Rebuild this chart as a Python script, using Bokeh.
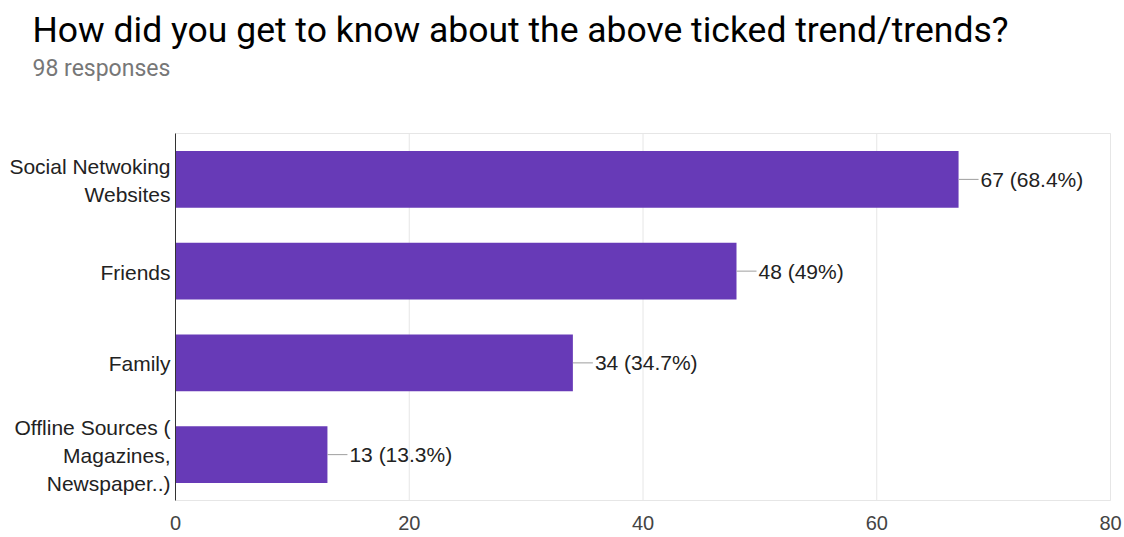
from bokeh.plotting import figure
from bokeh.models import Range1d, FixedTicker, ColumnDataSource
from bokeh.embed import file_html
from bokeh.resources import INLINE
from bokeh.core.properties import value

title_text = "How did you get to know about the above ticked trend/trends?"
subtitle_text = "98 responses"
categories = ["Social Netwoking Websites", "Friends", "Family", "Offline Sources ( Magazines, Newspaper..)"]
category_lines = [["Social Netwoking", "Websites"], ["Friends"], ["Family"],
                  ["Offline Sources (", "Magazines,", "Newspaper..)"]]
counts = [67, 48, 34, 13]
labels = ["67 (68.4%)", "48 (49%)", "34 (34.7%)", "13 (13.3%)"]
x_ticks = [0, 20, 40, 60, 80]

# ---- layout (pixels) ----
W, H = 1124, 537
PLOT_L, PLOT_R, PLOT_T, PLOT_B = 175, 1110, 133, 500
BORDER_BOTTOM = 36
FRAME_H = H - BORDER_BOTTOM
XMIN, XMAX = x_ticks[0], x_ticks[-1]
ncat = len(categories)
sx = (PLOT_R - PLOT_L) / (XMAX - XMIN)          # px per unit
uy = ncat / (PLOT_B - PLOT_T)                   # y units per px

def px2x(px):
    return XMIN + (px - PLOT_L) / sx

def py2y(py):
    return -0.5 + (PLOT_B - py) * uy

x_range = Range1d(px2x(0), px2x(W))
y_range = Range1d(py2y(FRAME_H), py2y(0))

ypos = [ncat - 1 - i for i in range(ncat)]      # first category on top
LEAD = 20 / sx
LINE_H = 28

src = ColumnDataSource(dict(
    y=ypos, n=counts, lab=labels,
    lead_end=[c + LEAD for c in counts],
))

# one row per text line of a category label
lx, ly, ltext, loff = [], [], [], []
for yp, lines in zip(ypos, category_lines):
    m = len(lines)
    for k, line in enumerate(lines):
        lx.append(0)
        ly.append(yp)
        ltext.append(line)
        loff.append((k - (m - 1) / 2) * LINE_H + 1)
cat_src = ColumnDataSource(dict(x=lx, y=ly, text=ltext, off=loff))

p = figure(width=W, height=H, output_backend="svg", toolbar_location=None,
           x_range=x_range, y_range=y_range,
           min_border_left=0, min_border_right=0, min_border_top=0, min_border_bottom=BORDER_BOTTOM)
p.background_fill_color = "white"
p.border_fill_color = "white"
p.outline_line_color = None
p.yaxis.visible = False
p.xgrid.grid_line_color = None
p.ygrid.grid_line_color = None

# plot-area box and grid lines
p.quad(left=XMIN, right=XMAX, bottom=-0.5, top=ncat - 0.5, fill_color=None, line_color="#e6e6e6", line_width=1)
p.segment(x0=x_ticks[1:], y0=-0.5, x1=x_ticks[1:], y1=ncat - 0.5, line_color="#e6e6e6", line_width=1)

p.hbar(y="y", right="n", left=0, height=0.62, source=src, fill_color="#673AB7", line_color=None)
p.segment(x0="n", y0="y", x1="lead_end", y1="y", source=src, line_color="#9e9e9e", line_width=1)
p.text(x="lead_end", y="y", text="lab", source=src, x_offset=2,
       text_font=value("Liberation Sans"), text_font_size="21px", text_color="#222222",
       text_align="left", text_baseline="middle")

# y axis line
p.segment(x0=[XMIN], y0=[-0.5], x1=[XMIN], y1=[ncat - 0.5], line_color="#333333", line_width=1)

# category labels
p.text(x="x", y="y", text="text", y_offset="off", source=cat_src, x_offset=-5,
       text_font=value("Liberation Sans"), text_font_size="21px", text_color="#222222",
       text_align="right", text_baseline="middle")

# title and subtitle
p.text(x=[px2x(32)], y=[py2y(29)], text=[title_text],
       text_font=value("Roboto"), text_font_size="35.5px", text_color="#000000",
       text_align="left", text_baseline="alphabetic")
p.text(x=[px2x(32)], y=[py2y(68)], text=[subtitle_text],
       text_font=value("Roboto"), text_font_size="23px", text_color="#777777",
       text_align="left", text_baseline="alphabetic")

p.xaxis.ticker = FixedTicker(ticks=x_ticks)
p.xaxis.axis_line_color = None
p.xaxis.major_tick_line_color = None
p.xaxis.minor_tick_line_color = None
p.xaxis.major_label_standoff = 8
p.xaxis.major_label_text_font = "Liberation Sans"
p.xaxis.major_label_text_font_size = "20px"
p.xaxis.major_label_text_color = "#444444"

open("out.html", "w").write(file_html(p, INLINE))
